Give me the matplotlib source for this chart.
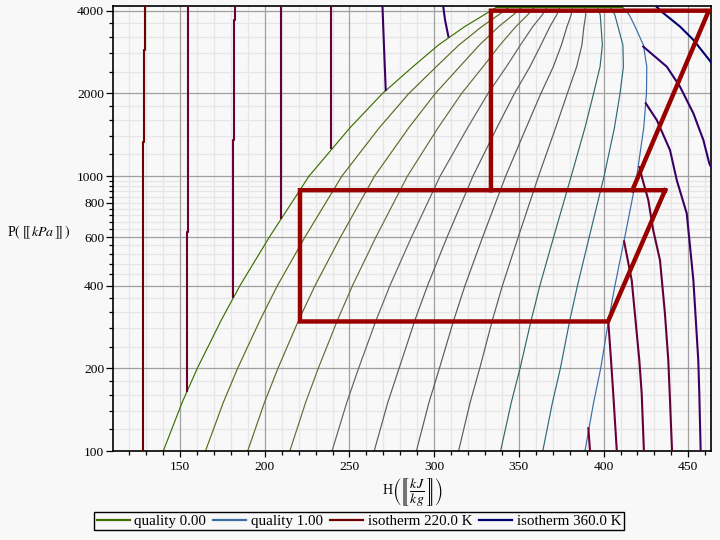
import numpy as np
import matplotlib
matplotlib.use("Agg")
import matplotlib.pyplot as plt
from matplotlib.lines import Line2D
from matplotlib.ticker import FixedLocator, NullFormatter

plt.rcParams['font.family'] = ['Liberation Serif', 'DejaVu Serif']
plt.rcParams['mathtext.fontset'] = 'stix'

# ---------------- data ----------------
qualities = [0.0, 0.1, 0.2, 0.3, 0.4, 0.5, 0.6, 0.7, 0.8, 0.9, 1.0]
# enthalpy (kJ/kg) of each quality line at a set of pressures (kPa)
q_pressures = [100, 150, 200, 300, 400, 600, 1000, 1500, 2000, 2500, 3000, 3500, 3870, 4120]
q_H_100 = [140.1, 165.0, 189.9, 214.8, 239.7, 264.6, 289.5, 314.4, 339.2, 364.1, 389.0]
q_H_150 = [151.2, 175.5, 199.8, 224.1, 248.4, 272.6, 296.9, 321.2, 345.5, 369.8, 394.1]
q_H_200 = [160.2, 184.0, 207.8, 231.6, 255.4, 279.3, 303.1, 326.9, 350.7, 374.5, 398.3]
q_H_300 = [174.4, 197.3, 220.1, 243.0, 265.8, 288.7, 311.6, 334.4, 357.3, 380.1, 403.0]
q_H_400 = [185.4, 207.5, 229.7, 251.8, 273.9, 296.1, 318.2, 340.3, 362.4, 384.6, 406.7]
q_H_600 = [202.7, 223.7, 244.7, 265.6, 286.6, 307.6, 328.6, 349.6, 370.5, 391.5, 412.5]
q_H_1000 = [226.1, 245.5, 264.8, 284.2, 303.5, 322.9, 342.2, 361.6, 380.9, 400.3, 419.6]
q_H_1500 = [250.3, 267.6, 285.0, 302.3, 319.7, 337.0, 354.3, 371.7, 389.0, 406.4, 423.7]
q_H_2000 = [269.5, 285.1, 300.7, 316.2, 331.8, 347.4, 363.0, 378.6, 394.1, 409.7, 425.3]
q_H_2500 = [287.4, 301.2, 315.0, 328.8, 342.6, 356.5, 370.3, 384.1, 397.9, 411.7, 425.5]
q_H_3000 = [302.5, 314.6, 326.7, 338.8, 350.9, 363.0, 375.1, 387.2, 399.3, 411.4, 423.5]
q_H_3500 = [318.0, 328.1, 338.1, 348.2, 358.2, 368.3, 378.4, 388.4, 398.5, 408.5, 418.6]
q_H_3870 = [329.7, 338.2, 346.8, 355.3, 363.9, 372.4, 380.9, 389.5, 398.0, 406.6, 415.1]
q_H_4120 = [336.9, 344.3, 351.8, 359.2, 366.6, 374.1, 381.5, 388.9, 396.4, 403.8, 411.2]
q0_top_H = [336.9, 410.6]
q0_top_P = [4120, 4120]

q_colors = ['#3d7000', '#5c6a1e', '#66662c', '#6a6a3a', '#626262', '#5c5c5c',
            '#5a5a5a', '#585c5e', '#326868', '#2f6a78', '#3a6ca8']

iso_T = [220, 240, 260, 280, 300, 320, 340, 360]
iso_colors = ['#6e0000', '#6a0030', '#6a0034', '#660036', '#620038', '#3a0062', '#32006a', '#00006e']
# liquid branches (H kJ/kg, P kPa)
iso_liq_H = {
    220: [129.2, 129.2, 128.6, 128.6, 128.2, 128.2],
    240: [154.9, 154.9, 154.5, 154.5, 154.0, 154.0],
    260: [182.5, 182.5, 182.0, 182.0, 181.3, 181.3],
    280: [209.6, 209.6, 209.4, 209.4],
    300: [238.9, 238.9],
    320: [269.5, 270.3, 271.4],
    340: [305.4, 306.4, 308.4],
}
iso_liq_P = {
    220: [4120, 2877, 2877, 1330, 1330, 100],
    240: [4120, 2414, 2414, 627, 627, 166],
    260: [4120, 3705, 3705, 1353, 1353, 362],
    280: [4120, 1500, 1500, 705],
    300: [4120, 1265],
    320: [4120, 3047, 2058],
    340: [4120, 3705, 3220],
}
# vapour branches
iso_vap_H = {
    240: [391.0, 392.0],
    260: [402.8, 404.4, 405.7, 407.8],
    280: [412.1, 416.6, 421.1, 422.5, 423.8],
    300: [421.2, 423.1, 426.4, 429.3, 433.3, 436.2, 438.2, 439.2, 440.4],
    320: [424.9, 431.4, 439.2, 443.2, 449.1, 453.0, 455.9, 456.5, 457.3],
    340: [423.4, 437.3, 445.1, 453.0, 458.9, 462.4, 464.0],
    360: [431.5, 434.9, 445.1, 453.0, 462.4, 464.0],
}
iso_vap_P = {
    240: [121, 100],
    260: [294, 213.5, 161.6, 100],
    280: [579, 418, 213.5, 161.6, 100],
    300: [1078, 967, 818, 636, 494, 317, 213.5, 152.9, 100],
    320: [1841, 1600, 1244, 967, 731, 418, 213.5, 161.6, 100],
    340: [2961, 2502, 2116, 1693, 1353, 1112, 1060],
    360: [4120, 3937, 3502, 3132, 2646, 2560],
}

# refrigeration cycle (red path)
cycle_high_H = [333.5, 333.5, 462.1, 417.0]
cycle_high_P = [889, 4000, 4000, 889]
cycle_low_H = [436.3, 220.8, 220.8, 402.6, 436.3]
cycle_low_P = [889, 889, 296, 296, 889]

x_major = [150, 200, 250, 300, 350, 400, 450]
x_minor = [v for v in range(120, 461, 10) if v % 50 != 0]
y_labels = [100, 200, 400, 600, 800, 1000, 2000, 4000]
y_major_grid = [100, 200, 400, 600, 1000, 2000, 4000]
y_minor = [120, 140, 160, 180, 240, 280, 320, 360, 440, 480, 520, 560,
           640, 680, 720, 760, 800, 840, 880, 920, 960,
           1200, 1400, 1600, 1800, 2400, 2800, 3200, 3600]

# ---------------- figure ----------------
bg = '#f8f8f8'
fig = plt.figure(figsize=(7.2, 5.4), dpi=100, facecolor=bg)
ax = fig.add_axes([113.3 / 720, 1 - 451 / 540, (711 - 113.3) / 720, (451 - 6) / 540])
ax.set_facecolor(bg)
ax.set_yscale('log')
ax.set_xlim(110.6, 463.4)
ax.set_ylim(100, 4160)

# grid
for v in x_minor:
    ax.axvline(v, color='#e6e6e6', lw=0.9, zorder=0)
for v in y_minor:
    ax.axhline(v, color='#e6e6e6', lw=0.9, zorder=0)
for v in x_major:
    ax.axvline(v, color='#a0a0a0', lw=0.9, zorder=0.5)
for v in y_major_grid:
    ax.axhline(v, color='#a0a0a0', lw=0.9, zorder=0.5)

# quality lines
q_table = np.array([q_H_100, q_H_150, q_H_200, q_H_300, q_H_400, q_H_600, q_H_1000,
                    q_H_1500, q_H_2000, q_H_2500, q_H_3000, q_H_3500, q_H_3870, q_H_4120])
for i, q in enumerate(qualities):
    ax.plot(q_table[:, i], q_pressures, color=q_colors[i], lw=0.85, zorder=2)
ax.plot(q0_top_H, q0_top_P, color=q_colors[0], lw=1.6, zorder=2, clip_on=False)

# isotherms
for T, c in zip(iso_T, iso_colors):
    if T in iso_liq_H:
        ax.plot(iso_liq_H[T], iso_liq_P[T], color=c, lw=1.5, zorder=3)
    if T in iso_vap_H:
        ax.plot(iso_vap_H[T], iso_vap_P[T], color=c, lw=1.5, zorder=3)

# cycle
ax.plot(cycle_high_H, cycle_high_P, color='#990000', lw=3.2, zorder=5,
        solid_joinstyle='miter', solid_capstyle='projecting')
ax.plot(cycle_low_H, cycle_low_P, color='#990000', lw=3.2, zorder=5,
        solid_joinstyle='miter', solid_capstyle='projecting')

# ticks
ax.xaxis.set_major_locator(FixedLocator(x_major))
ax.xaxis.set_minor_locator(FixedLocator(x_minor))
ax.yaxis.set_major_locator(FixedLocator(y_labels))
ax.yaxis.set_minor_locator(FixedLocator(y_minor))
ax.set_xticklabels([str(v) for v in x_major])
ax.set_yticklabels([str(v) for v in y_labels])
ax.yaxis.set_minor_formatter(NullFormatter())
ax.tick_params(axis='both', which='major', direction='out', length=4.5, width=0.9,
               labelsize=9.7, color='black')
ax.tick_params(axis='both', which='minor', direction='out', length=2.6, width=0.9, color='black')
ax.tick_params(axis='x', which='major', pad=3)
ax.tick_params(axis='y', which='major', length=5, pad=1.5)
for side in ['top', 'right', 'bottom', 'left']:
    ax.spines[side].set_linewidth(1.2)

fig.text(113.3 / 720 + (711 - 113.3) / 720 / 2, 1 - 492 / 540,
         r'H$\left(\left[\!\!\left[\,\dfrac{kJ}{kg}\,\right]\!\!\right]\right)$',
         ha='center', va='center', fontsize=10)
fig.text(38.5 / 720, 1 - 232 / 540, r'P$(\;[\![\,kPa\,]\!]\;)$',
         ha='center', va='center', fontsize=10)

handles = [Line2D([], [], color=q_colors[0], lw=1.6),
           Line2D([], [], color=q_colors[-1], lw=1.6),
           Line2D([], [], color=iso_colors[0], lw=1.6),
           Line2D([], [], color=iso_colors[-1], lw=1.6)]
labels = ['quality 0.00', 'quality 1.00', 'isotherm 220.0 K', 'isotherm 360.0 K']
leg = fig.legend(handles, labels, loc='center', bbox_to_anchor=(359 / 720, 1 - 521 / 540),
                 ncol=4, fontsize=10.8, frameon=True, fancybox=False, edgecolor='black',
                 facecolor=bg, framealpha=1, handlelength=2.2, handletextpad=0.33,
                 columnspacing=0.45, borderpad=0.15, borderaxespad=0)
leg.get_frame().set_linewidth(1.0)

fig.savefig('out.png', dpi=100, facecolor=bg)
